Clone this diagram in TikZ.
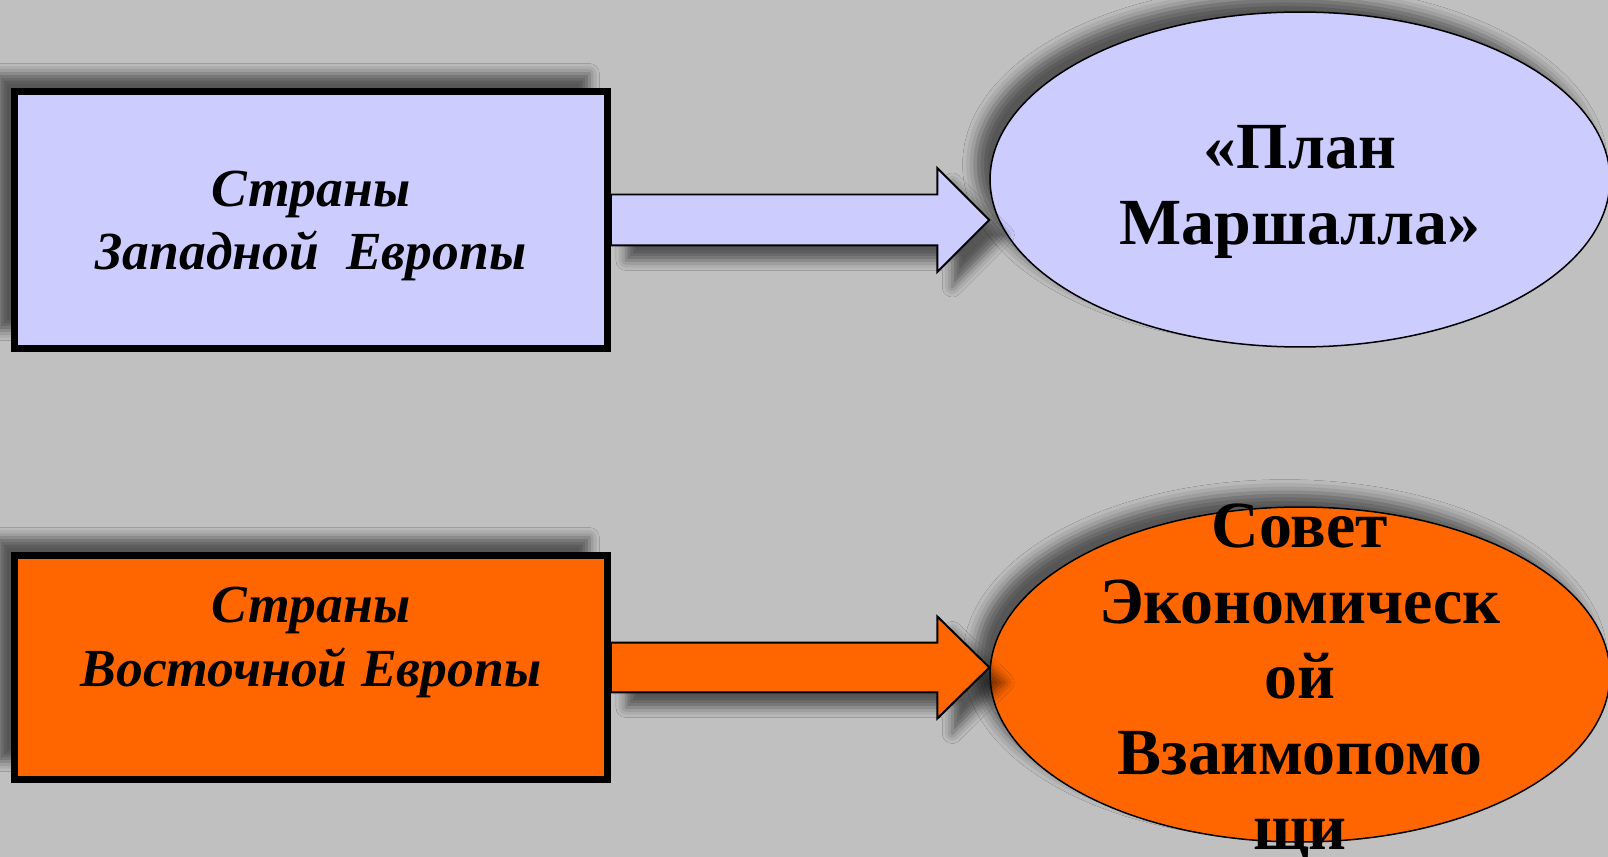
\documentclass[tikz,border=0pt]{standalone}
\usepackage{fontspec}
\setmainfont{Liberation Serif}
\usetikzlibrary{shapes.geometric,shadows.blur}
\definecolor{lavender}{HTML}{CCCCFF}
\definecolor{sovorange}{HTML}{FF6600}
\definecolor{slidegrey}{HTML}{C0C0C0}

\begin{document}
\begin{tikzpicture}[x=0.02cm,y=-0.02cm,
        countrytext/.style={align=center,font=\fontsize{30.5}{36}\selectfont\bfseries\itshape},
        country/.style={draw,line width=0.14cm,minimum width=11.86cm,
            blur shadow={shadow xshift=-0.36cm,shadow yshift=0.36cm,shadow blur radius=0.2cm,shadow opacity=55}},
        plan/.style={ellipse,draw,line width=0.03cm,minimum width=12.4cm,minimum height=6.7cm,
            blur shadow={shadow xshift=-0.3cm,shadow yshift=0.3cm,shadow blur radius=0.25cm,shadow opacity=55}},
        plantext/.style={align=center,font=\fontsize{37.5}{43}\selectfont\bfseries},
        blockarrow/.style={draw,line width=0.04cm,
            blur shadow={shadow xshift=0.3cm,shadow yshift=-0.3cm,shadow blur radius=0.2cm,shadow opacity=55}}]
    \fill [slidegrey] (0,0) rectangle (1608,857);
    \clip (0,0) rectangle (1608,857);

    \node [country,fill=lavender,minimum height=5.14cm] (west) at (311,220) {};
    \node [countrytext] (westname) at (311,226) {Страны\\Западной \ Европы};
    \node [country,fill=sovorange,minimum height=4.48cm] (east) at (311,667.5) {};
    \node [countrytext] (eastname) at (311,642.5) {Страны\\Восточной Европы};

    \node [plan,fill=lavender] (marshall) at (1300,179.5) {};
    \node [plantext] (marshallname) at ([yshift=-0.25cm]marshall) {«План\\Маршалла»};
    \node [plan,fill=sovorange] (comecon) at (1300,674.5) {};
    \node [plantext] (comeconname) at ([yshift=-0.16cm]comecon) {Совет\\Экономическ\\ой\\Взаимопомо\\щи};

    \coordinate (tipA) at (west.east -| marshall.west);
    \coordinate (tipB) at (east.east -| comecon.west);

    \draw [blockarrow,fill=lavender]
        ([yshift=0.51cm]west.east) -- ([xshift=-1.04cm,yshift=0.51cm]tipA)
        -- ([xshift=-1.04cm,yshift=1.04cm]tipA) -- (tipA)
        -- ([xshift=-1.04cm,yshift=-1.04cm]tipA) -- ([xshift=-1.04cm,yshift=-0.51cm]tipA)
        -- ([yshift=-0.51cm]west.east) -- cycle;
    \draw [blockarrow,fill=sovorange]
        ([yshift=0.5cm]east.east) -- ([xshift=-1.04cm,yshift=0.5cm]tipB)
        -- ([xshift=-1.04cm,yshift=1.02cm]tipB) -- (tipB)
        -- ([xshift=-1.04cm,yshift=-1.02cm]tipB) -- ([xshift=-1.04cm,yshift=-0.5cm]tipB)
        -- ([yshift=-0.5cm]east.east) -- cycle;
\end{tikzpicture}
\end{document}
